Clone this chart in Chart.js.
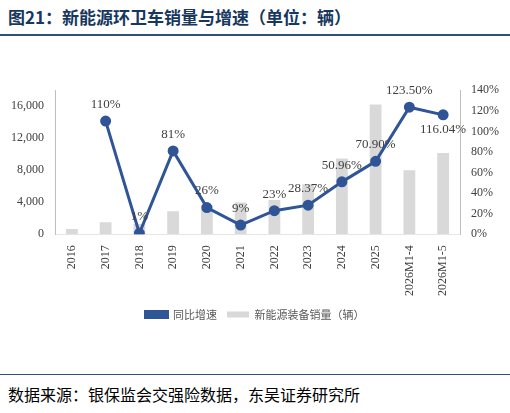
<!DOCTYPE html>
<html><head><meta charset="utf-8">
<script src="https://cdn.jsdelivr.net/npm/chart.js@4"></script>
<style>
body{margin:0;width:510px;height:413px;background:#fff;font-family:"Noto Sans CJK SC";position:relative}
#t{position:absolute;left:8px;top:4px;font-size:17px;font-weight:bold;color:#17375e}
#f{position:absolute;left:8px;top:382px;font-size:16px;color:#000}
#line1{position:absolute;left:0;top:34px;width:510px;border-top:2px solid #2f4f7f}
#line2{position:absolute;left:0;top:374px;width:510px;border-top:1px solid #2f4f7f}
#c{position:absolute;left:0;top:80px;width:510px;height:250px}
</style></head><body>
<div id="t">图21：新能源环卫车销量与增速（单位：辆）</div>
<div id="line1"></div>
<div id="c"><canvas id="cv"></canvas></div>
<div id="line2"></div>
<div id="f">数据来源：银保监会交强险数据，东吴证券研究所</div>
<script>
var categories = ["2016","2017","2018","2019","2020","2021","2022","2023","2024","2025","2026M1-4","2026M1-5"];
var sales = [680,1500,1300,2870,3660,3980,4300,6250,9480,16200,8000,10150];
var growth = [null,110,1,81,26,9,23,28.37,50.96,70.9,123.5,116.04];
var growthLabels = ["","110%","1%","81%","26%","9%","23%","28.37%","50.96%","70.90%","123.50%","116.04%"];

var lblPlugin = {
  id: "lbl",
  afterDatasetsDraw: function (ch) {
    var meta = ch.getDatasetMeta(1);
    var c = ch.ctx;
    c.save();
    c.font = "13px 'Liberation Serif'";
    c.fillStyle = "#404040";
    c.textAlign = "center";
    for (var i = 0; i < meta.data.length; i++) {
      if (!growthLabels[i]) continue;
      var p = meta.data[i];
      if (i === 11) { c.textBaseline = "top"; c.fillText(growthLabels[i], p.x, p.y + 8); }
      else { c.textBaseline = "bottom"; c.fillText(growthLabels[i], p.x, p.y - 10); }
    }
    c.restore();
  }
};

var tickFont = { size: 12, family: "Liberation Serif" };

var barDs = { type: "bar", label: "新能源装备销量（辆）", data: sales, backgroundColor: "#d9d9d9",
  yAxisID: "y", barPercentage: 0.35, categoryPercentage: 1, order: 2 };
var lineDs = { type: "line", label: "同比增速", data: growth, borderColor: "#2f5597", backgroundColor: "#2f5597",
  borderWidth: 3, pointRadius: 4, yAxisID: "y1", order: 1 };

var scales = {
  x: { grid: { display: false }, ticks: { maxRotation: 90, minRotation: 90, font: tickFont, color: "#404040" } },
  y: { min: 0, max: 18000, grid: { display: false }, border: { color: "#bfbfbf" },
       ticks: { stepSize: 2000, font: tickFont, color: "#404040", callback: function (v) { return Number(v).toLocaleString("en-US"); } } },
  y1: { position: "right", min: 0, max: 140, grid: { display: false }, border: { color: "#bfbfbf" },
       ticks: { stepSize: 20, font: tickFont, color: "#404040", callback: function (v) { return v + "%"; } } }
};

var options = {
  responsive: true, maintainAspectRatio: false, animation: false,
  layout: { padding: { left: 8, right: 8, top: 8 } },
  plugins: {
    legend: { position: "bottom", labels: { boxWidth: 22, boxHeight: 6, color: "#595959", font: { size: 11, family: "Noto Sans CJK SC" } } },
    tooltip: { enabled: false }
  },
  scales: scales
};

new Chart(document.getElementById("cv"), {
  data: { labels: categories, datasets: [barDs, lineDs] },
  options: options,
  plugins: [lblPlugin]
});
</script>
</body></html>
